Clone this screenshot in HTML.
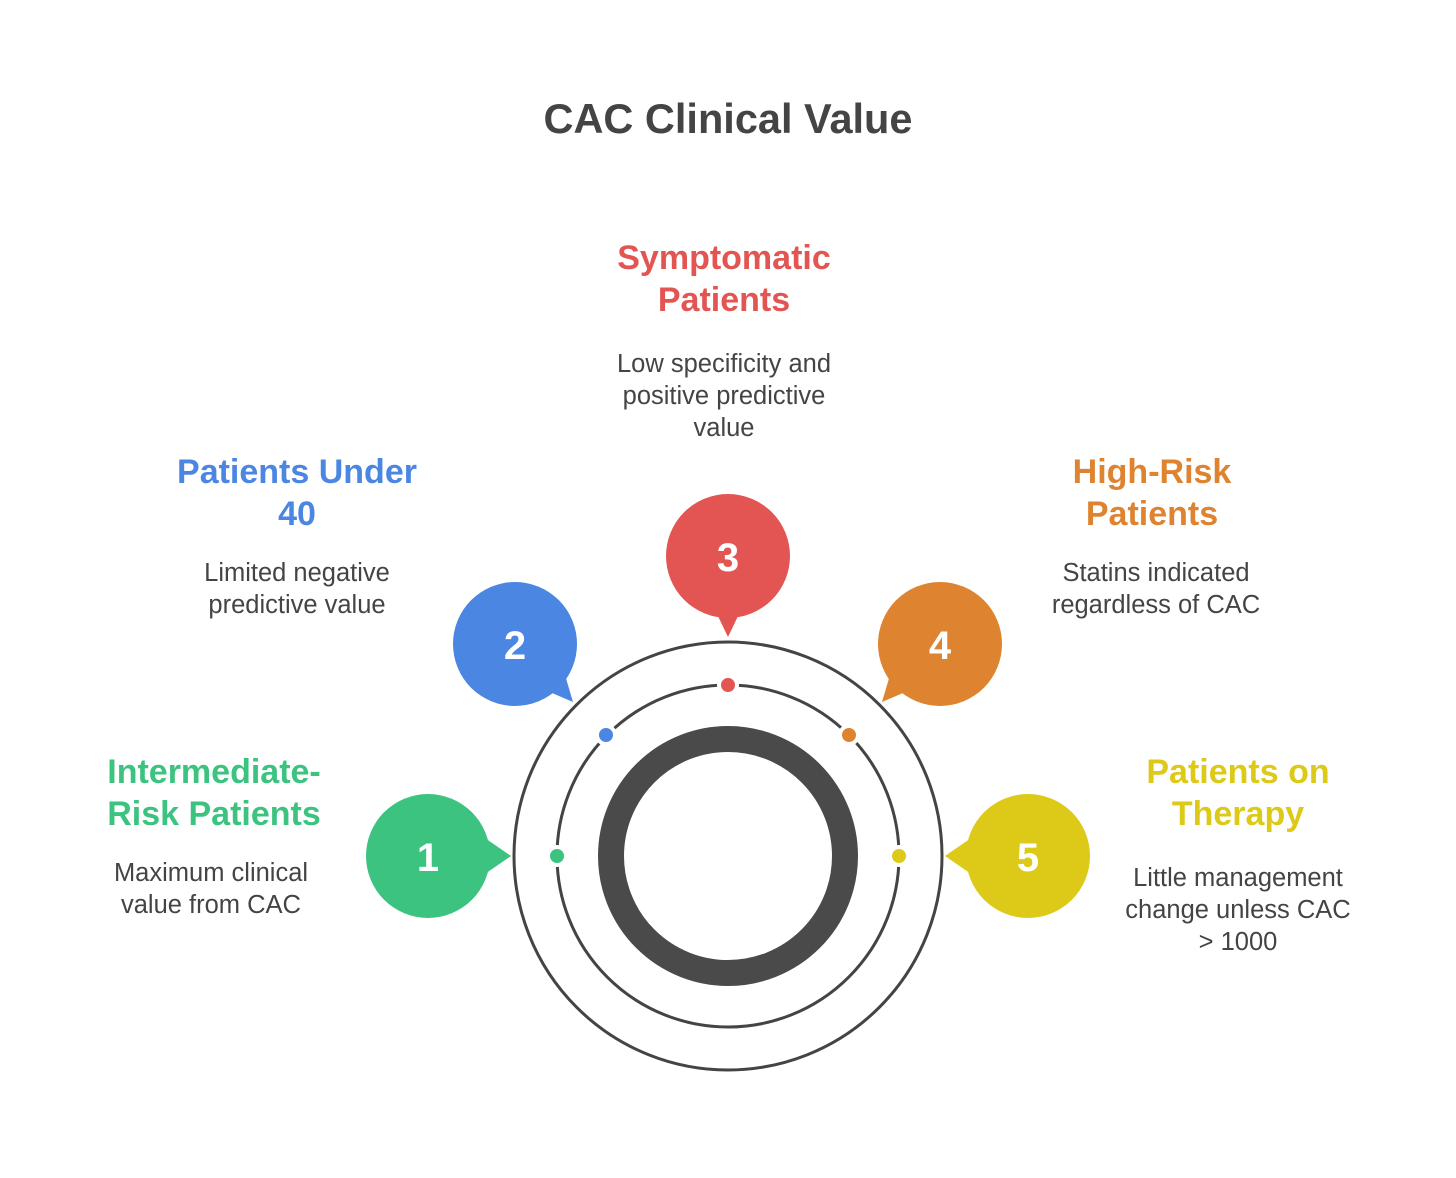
<!DOCTYPE html>
<html><head><meta charset="utf-8"><style>
html,body{margin:0;padding:0;background:#fff;}
svg{display:block;}
text{font-family:"Liberation Sans",Arial,sans-serif;}
.t{font-weight:bold;font-size:34px;text-anchor:middle;}
.b{font-size:25.5px;fill:#444;text-anchor:middle;}
.n{font-weight:bold;font-size:40px;fill:#fff;text-anchor:middle;}
</style></head><body>
<svg width="1456" height="1178" viewBox="0 0 1456 1178" xmlns="http://www.w3.org/2000/svg">
<rect width="1456" height="1178" fill="#fff"/>
<text x="728" y="133" text-anchor="middle" font-weight="bold" font-size="41.5" fill="#444">CAC Clinical Value</text>

<circle cx="728" cy="856" r="214" fill="none" stroke="#444" stroke-width="3"/>
<circle cx="728" cy="856" r="171" fill="none" stroke="#444" stroke-width="3"/>
<circle cx="728" cy="856" r="117" fill="none" stroke="#4a4a4a" stroke-width="26"/>

<g stroke="#fff" stroke-width="4">
<circle cx="557" cy="856" r="9" fill="#3CC380"/>
<circle cx="606" cy="735" r="9" fill="#4A86E2"/>
<circle cx="728" cy="685" r="9" fill="#E25552"/>
<circle cx="849" cy="735" r="9" fill="#DE8430"/>
<circle cx="899" cy="856" r="9" fill="#DDC917"/>
</g>

<g>
<circle cx="428" cy="856" r="62" fill="#3CC380"/>
<polygon points="482,836 511,856 482,876" fill="#3CC380"/>
<text class="n" x="428" y="871">1</text>

<circle cx="515" cy="644" r="62" fill="#4A86E2"/>
<polygon points="565,675 573,702 545,690" fill="#4A86E2"/>
<text class="n" x="515" y="659">2</text>

<circle cx="728" cy="556" r="62" fill="#E25552"/>
<polygon points="716,612 728,637 740,612" fill="#E25552"/>
<text class="n" x="728" y="571">3</text>

<circle cx="940" cy="644" r="62" fill="#DE8430"/>
<polygon points="890,675 882,702 910,690" fill="#DE8430"/>
<text class="n" x="940" y="659">4</text>

<circle cx="1028" cy="856" r="62" fill="#DDC917"/>
<polygon points="974,836 945,856 974,876" fill="#DDC917"/>
<text class="n" x="1028" y="871">5</text>
</g>

<text class="t" fill="#E25552" x="724" y="269">Symptomatic</text>
<text class="t" fill="#E25552" x="724" y="311">Patients</text>
<text class="b" x="724" y="372">Low specificity and</text>
<text class="b" x="724" y="404">positive predictive</text>
<text class="b" x="724" y="436">value</text>

<text class="t" fill="#4A86E2" x="297" y="483">Patients Under</text>
<text class="t" fill="#4A86E2" x="297" y="525">40</text>
<text class="b" x="297" y="581">Limited negative</text>
<text class="b" x="297" y="613">predictive value</text>

<text class="t" fill="#DE8430" x="1152" y="483">High-Risk</text>
<text class="t" fill="#DE8430" x="1152" y="525">Patients</text>
<text class="b" x="1156" y="581">Statins indicated</text>
<text class="b" x="1156" y="613">regardless of CAC</text>

<text class="t" fill="#3CC380" x="214" y="783">Intermediate-</text>
<text class="t" fill="#3CC380" x="214" y="825">Risk Patients</text>
<text class="b" x="211" y="881">Maximum clinical</text>
<text class="b" x="211" y="913">value from CAC</text>

<text class="t" fill="#DDC917" x="1238" y="783">Patients on</text>
<text class="t" fill="#DDC917" x="1238" y="825">Therapy</text>
<text class="b" x="1238" y="886">Little management</text>
<text class="b" x="1238" y="918">change unless CAC</text>
<text class="b" x="1238" y="950">&gt; 1000</text>
</svg>
</body></html>
